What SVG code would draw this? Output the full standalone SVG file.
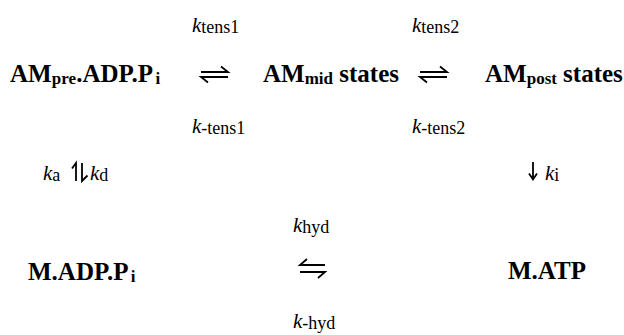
<svg xmlns="http://www.w3.org/2000/svg" width="624" height="335" viewBox="0 0 624 335">
<style>
text{font-family:"Liberation Serif","Times New Roman",serif;fill:#000}
.b{font-weight:bold;font-size:25px}
.bs{font-weight:bold;font-size:17px}
.ks{font-size:18px}
.ki{font-style:italic;font-size:21px}
.ar{fill:none;stroke:#000;stroke-width:1.8;stroke-linecap:butt}
</style>
<rect width="624" height="335" fill="#fff"/>
<g id="node-am-pre">
<text class="b" font-family="Liberation Serif" x="10" y="82">AM</text>
<text class="bs" font-family="Liberation Serif" x="51.7" y="84">pre</text>
<text class="b" font-family="Liberation Serif" x="76.2" y="82">.ADP.P</text>
<text class="bs" font-family="Liberation Serif" x="155.4" y="84">i</text>
</g>
<g id="node-am-mid">
<text class="b" font-family="Liberation Serif" x="263" y="82">AM</text>
<text class="bs" font-family="Liberation Serif" x="304.7" y="84">mid</text>
<text class="b" font-family="Liberation Serif" x="339.3" y="82">states</text>
</g>
<g id="node-am-post">
<text class="b" font-family="Liberation Serif" x="485" y="82">AM</text>
<text class="bs" font-family="Liberation Serif" x="526.7" y="84">post</text>
<text class="b" font-family="Liberation Serif" x="563.1" y="82">states</text>
</g>
<g id="node-m-adp">
<text class="b" font-family="Liberation Serif" x="28" y="280">M.ADP.P</text>
<text class="bs" font-family="Liberation Serif" x="130.8" y="282">i</text>
</g>
<g id="node-m-atp">
<text class="b" font-family="Liberation Serif" x="508" y="279">M.ATP</text>
</g>
<g id="connectors">
<path class="ar" d="M201 72H228L221 66.5M228 77H201L208 82.5"/>
<path class="ar" d="M420 72H447L440 66.5M447 77H420L427 82.5"/>
<path class="ar" d="M76 181V163L72 168.5M82 163V181L87.5 175.5"/>
<path class="ar" d="M533 162V179M529 173.5L533 179.5L537 173.5"/>
<path class="ar" d="M325 265H300L307 259M300 272H325L318 278"/>
<text class="ki" font-family="Liberation Serif" x="192" y="32">k</text>
<text class="ks" font-family="Liberation Serif" x="201.3" y="33">tens1</text>
<text class="ki" font-family="Liberation Serif" x="412" y="32">k</text>
<text class="ks" font-family="Liberation Serif" x="421.3" y="33">tens2</text>
<text class="ki" font-family="Liberation Serif" x="192" y="133">k</text>
<text class="ks" font-family="Liberation Serif" x="201.3" y="134">-tens1</text>
<text class="ki" font-family="Liberation Serif" x="412" y="133">k</text>
<text class="ks" font-family="Liberation Serif" x="421.3" y="134">-tens2</text>
<text class="ki" font-family="Liberation Serif" x="43" y="180">k</text>
<text class="ks" font-family="Liberation Serif" x="52.3" y="181">a</text>
<text class="ki" font-family="Liberation Serif" x="90" y="180">k</text>
<text class="ks" font-family="Liberation Serif" x="99.3" y="181">d</text>
<text class="ki" font-family="Liberation Serif" x="545" y="180">k</text>
<text class="ks" font-family="Liberation Serif" x="554.3" y="181">i</text>
<text class="ki" font-family="Liberation Serif" x="293" y="232">k</text>
<text class="ks" font-family="Liberation Serif" x="302.3" y="233">hyd</text>
<text class="ki" font-family="Liberation Serif" x="293" y="328">k</text>
<text class="ks" font-family="Liberation Serif" x="302.3" y="329">-hyd</text>
</g>
</svg>
